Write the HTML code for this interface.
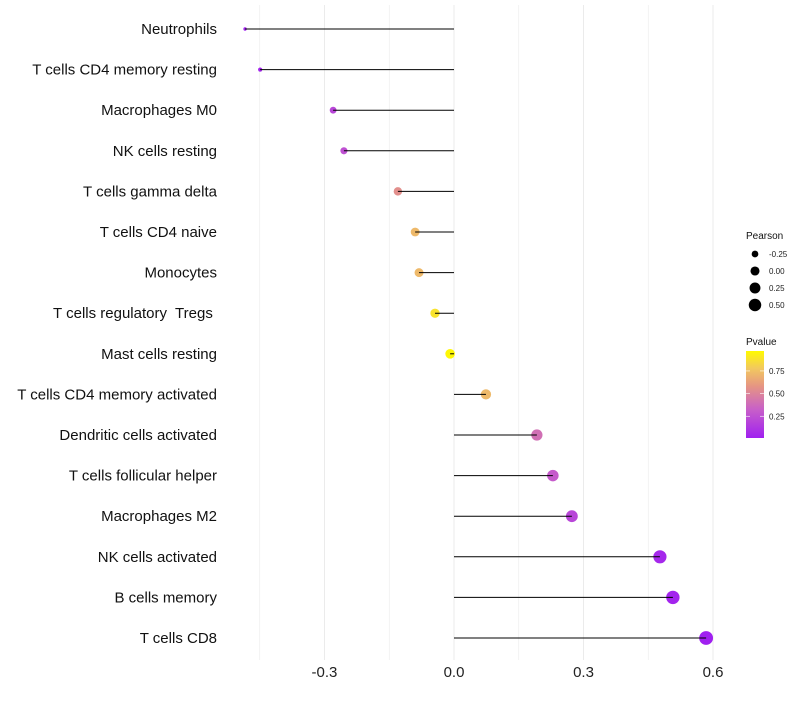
<!DOCTYPE html>
<html><head><meta charset="utf-8"><style>
body{margin:0;background:#fff;font-family:"Liberation Sans",sans-serif}
svg text{font-family:"Liberation Sans",sans-serif;white-space:pre}
</style></head><body>
<svg id="chart" width="800" height="700"></svg>
<script>
const categories=["Neutrophils","T cells CD4 memory resting","Macrophages M0","NK cells resting","T cells gamma delta","T cells CD4 naive","Monocytes","T cells regulatory  Tregs ","Mast cells resting","T cells CD4 memory activated","Dendritic cells activated","T cells follicular helper","Macrophages M2","NK cells activated","B cells memory","T cells CD8"];
const pearson=[-0.484,-0.449,-0.280,-0.255,-0.130,-0.090,-0.081,-0.044,-0.009,0.074,0.192,0.229,0.273,0.477,0.507,0.584];
const pvalue=[0.02,0.03,0.2,0.25,0.55,0.72,0.72,0.88,0.96,0.72,0.4,0.3,0.2,0.05,0.03,0.01];
const xTicks=[-0.3,0,0.3,0.6];
const xTickLabels=["-0.3","0.0","0.3","0.6"];
const sizeLegend=[-0.25,0,0.25,0.5];
const sizeLegendLabels=["-0.25","0.00","0.25","0.50"];
const colorLegend=[0.25,0.5,0.75];
const colorLegendLabels=["0.25","0.50","0.75"];

const NS="http://www.w3.org/2000/svg";
const svg=document.getElementById('chart');
function mk(t,a,p){const e=document.createElementNS(NS,t);for(const k in a)e.setAttribute(k,a[k]);(p||svg).appendChild(e);return e;}
const x=v=>454+v*431.7;
const y=i=>29+i*40.6;
const r=v=>Math.sqrt(Math.max(1,20.4+37*v));
const rp=v=>r(v)*1.07;
const stops=[[0,[160,32,240]],[0.33,[200,96,200]],[0.6,[230,150,130]],[0.8,[242,200,95]],[1,[255,250,0]]];
function col(p){const t=Math.min(1,Math.max(0,(p-0.01)/0.96));for(let i=1;i<stops.length;i++){if(t<=stops[i][0]){const a=stops[i-1],b=stops[i],f=(t-a[0])/(b[0]-a[0]);const c=a[1].map((v,k)=>Math.round(v+(b[1][k]-v)*f));return`rgb(${c})`;}}return'rgb(255,250,0)';}

for(let v=-0.45;v<=0.61;v+=0.15){
 const g=mk('line',{x1:x(v),x2:x(v),y1:5,y2:660,stroke:'#ebebeb','stroke-width':Math.abs(Math.round(v/0.3)*0.3-v)<0.01?1:0.6});
 
 
}
xTicks.forEach((v,i)=>{
 const t=mk('text',{x:x(v),y:677,'text-anchor':'middle','font-size':15,fill:'#222'});t.textContent=xTickLabels[i];
 
 
});
categories.forEach((c,i)=>{
 const t=mk('text',{x:217,y:y(i)+5,'text-anchor':'end','font-size':15,fill:'#111'});t.textContent=c;
 
 
 const d=mk('circle',{cx:x(pearson[i]),cy:y(i),r:rp(pearson[i]),fill:col(pvalue[i])});
 
 
 const l=mk('line',{x1:x(0),x2:x(pearson[i]),y1:y(i),y2:y(i),stroke:'#000','stroke-width':1});
 
 
});
const lt=mk('text',{x:746,y:239,'font-size':10,fill:'#111'});lt.textContent='Pearson';


sizeLegend.forEach((v,i)=>{
 const cy=254+i*17;
 const c=mk('circle',{cx:755,cy:cy,r:r(v),fill:'#000'});
 
 
 const t=mk('text',{x:769,y:cy+3,'font-size':8,fill:'#222'});t.textContent=sizeLegendLabels[i];
 
 
});
const ct=mk('text',{x:746,y:345,'font-size':10,fill:'#111'});ct.textContent='Pvalue';


const defs=mk('defs',{});
const lg=mk('linearGradient',{id:'pg',x1:0,y1:1,x2:0,y2:0},defs);
stops.forEach(s=>mk('stop',{offset:s[0],'stop-color':`rgb(${s[1]})`},lg));
const bar=mk('rect',{x:746,y:351,width:18,height:87,fill:'url(#pg)'});


const cb=p=>438-(p-0.01)/0.96*87;
colorLegend.forEach((v,i)=>{
 mk('line',{x1:746,x2:750,y1:cb(v),y2:cb(v),stroke:'#fff','stroke-width':0.6});
 mk('line',{x1:760,x2:764,y1:cb(v),y2:cb(v),stroke:'#fff','stroke-width':0.6});
 const t=mk('text',{x:769,y:cb(v)+3,'font-size':8,fill:'#222'});t.textContent=colorLegendLabels[i];
 
 
});
</script>
</body></html>
